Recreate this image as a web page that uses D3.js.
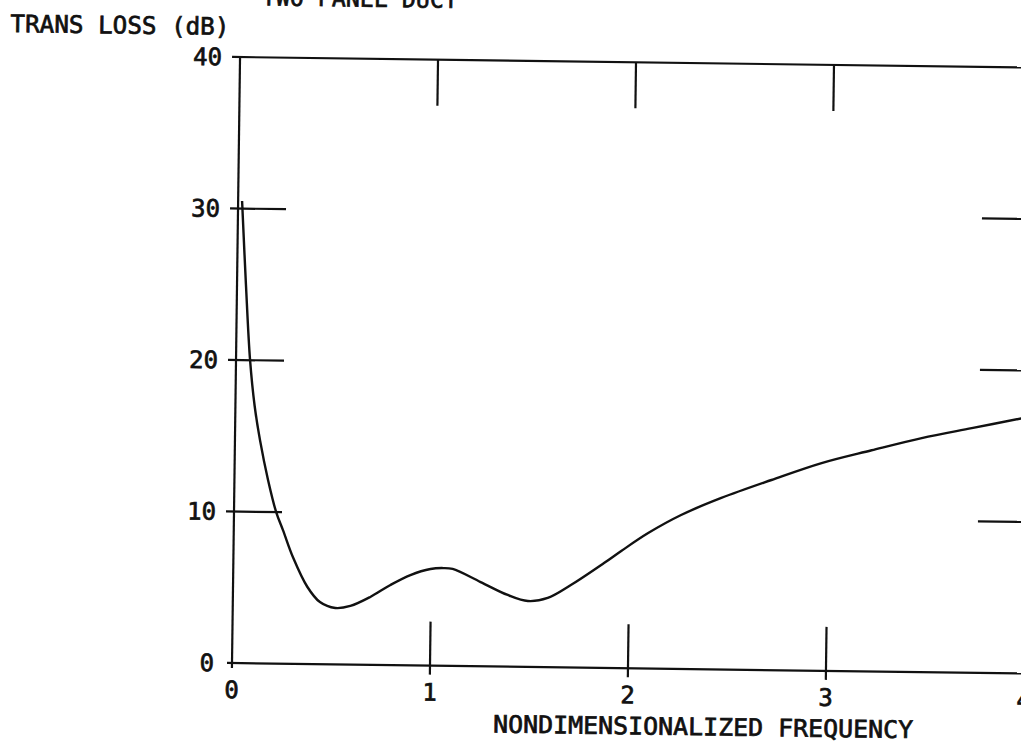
<!DOCTYPE html>
<html>
<head>
<meta charset="utf-8">
<script src="https://cdn.jsdelivr.net/npm/d3@7"></script>
<style>
  html, body { margin: 0; padding: 0; background: #fff; }
  svg { display: block; }
  text { font-family: "DejaVu Sans Mono", "Liberation Mono", monospace; fill: #111; stroke: #111; stroke-width: 0.7px; }
</style>
</head>
<body>
<svg id="chart" width="1021" height="745"></svg>
<script>
// Transmission loss of a two panel duct vs nondimensionalized frequency
const freq = [0.02, 0.045, 0.071, 0.097, 0.127, 0.17, 0.213, 0.249, 0.302, 0.375, 0.44,
  0.518, 0.594, 0.694, 0.795, 0.895, 0.996, 1.06, 1.108, 1.25, 1.388,
  1.49, 1.59, 1.706, 1.872, 1.96, 2.093, 2.258, 2.46, 2.712, 2.964,
  3.216, 3.468, 3.72, 3.98];
const transLoss = [30.5, 25.0, 20.0, 17.0, 14.7, 12.1, 10.0, 8.8, 7.0, 5.1, 4.1,
  3.72, 3.87, 4.48, 5.29, 5.96, 6.38, 6.45, 6.40, 5.56, 4.73,
  4.35, 4.57, 5.44, 6.92, 7.75, 8.94, 10.16, 11.32, 12.55, 13.71,
  14.6, 15.45, 16.15, 16.86];

const xTickValues = [0, 1, 2, 3, 4];
const yTickValues = [0, 10, 20, 30, 40];
const xTickLabels = ["0", "1", "2", "3", "4"];
const yTickLabels = ["0", "10", "20", "30", "40"];

const titleText = "TWO PANEL DUCT";
const yTitleText = "TRANS LOSS  (dB)";
const xTitleText = "NONDIMENSIONALIZED FREQUENCY";

const svg = d3.select("#chart");
svg.append("rect").attr("width", 1021).attr("height", 745).attr("fill", "#fff");

// The plotted sheet sits slightly askew; everything is drawn in its own frame
const g = svg.append("g").attr("transform", "translate(232,663) rotate(0.76)");

const x = d3.scaleLinear().domain([0, 4]).range([0, 792]);
const y = d3.scaleLinear().domain([0, 40]).range([0, -606]);

const ink = "#111";
const fontSize = 24;

// Frame: left, bottom, top and right edges
const frame = g.append("g").attr("stroke", ink).attr("stroke-width", 2.2).attr("fill", "none");
frame.append("line").attr("x1", x(0)).attr("x2", x(0)).attr("y1", y(40)).attr("y2", y(0) + 5);
frame.append("line").attr("x1", x(0) - 5).attr("x2", x(4)).attr("y1", y(0)).attr("y2", y(0));
frame.append("line").attr("x1", x(0) - 8).attr("x2", x(4)).attr("y1", y(40)).attr("y2", y(40));
frame.append("line").attr("x1", x(4)).attr("x2", x(4)).attr("y1", y(40)).attr("y2", y(0));

// Inward tick marks on all four sides
const inner = [10, 20, 30];
frame.selectAll(".ytl").data(inner).join("line")
  .attr("x1", x(0) - 8).attr("x2", x(0) + 48)
  .attr("y1", d => y(d)).attr("y2", d => y(d));
frame.selectAll(".ytr").data(inner).join("line")
  .attr("x1", x(4) - 48).attr("x2", x(4))
  .attr("y1", d => y(d)).attr("y2", d => y(d));
const innerX = [1, 2, 3];
frame.selectAll(".xtb").data(innerX).join("line")
  .attr("x1", d => x(d)).attr("x2", d => x(d))
  .attr("y1", y(0) + 9).attr("y2", y(0) - 44);
frame.selectAll(".xtt").data(innerX).join("line")
  .attr("x1", d => x(d)).attr("x2", d => x(d))
  .attr("y1", y(40)).attr("y2", y(40) + 46);

// Tick labels
g.selectAll(".ylab").data(yTickValues).join("text")
  .attr("x", -18).attr("y", d => y(d) + 8.5)
  .attr("text-anchor", "end").attr("font-size", fontSize)
  .text((d, i) => yTickLabels[i]);
g.selectAll(".xlab").data(xTickValues).join("text")
  .attr("x", d => x(d)).attr("y", 35)
  .attr("text-anchor", "middle").attr("font-size", fontSize)
  .text((d, i) => xTickLabels[i]);

// Titles
g.append("text").attr("x", -230).attr("y", -628).attr("font-size", fontSize)
  .attr("textLength", 219).attr("lengthAdjust", "spacingAndGlyphs").text(yTitleText);
g.append("text").attr("x", 262).attr("y", 66).attr("font-size", fontSize)
  .attr("textLength", 420).attr("lengthAdjust", "spacingAndGlyphs").text(xTitleText);
g.append("text").attr("x", 21).attr("y", -658).attr("font-size", fontSize)
  .attr("textLength", 196).attr("lengthAdjust", "spacingAndGlyphs").text(titleText);

// Transmission loss curve
const line = d3.line()
  .x((d, i) => x(freq[i]))
  .y(d => y(d))
  .curve(d3.curveCatmullRom.alpha(0.5));
g.append("path").datum(transLoss)
  .attr("d", line)
  .attr("fill", "none").attr("stroke", ink).attr("stroke-width", 2.4);
</script>
</body>
</html>
